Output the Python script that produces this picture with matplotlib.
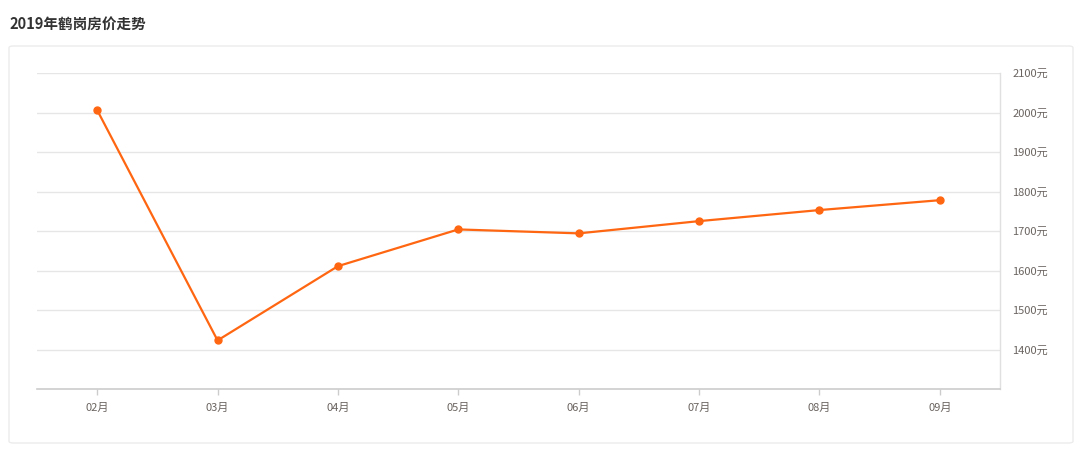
import matplotlib
matplotlib.use("Agg")
import matplotlib.pyplot as plt
from matplotlib.patches import FancyBboxPatch

plt.rcParams['font.family'] = ['Noto Sans CJK SC', 'DejaVu Sans']

months = ["02月", "03月", "04月", "05月", "06月", "07月", "08月", "09月"]
prices = [2006, 1423, 1611, 1704, 1694, 1725, 1753, 1778]
y_ticks = [1400, 1500, 1600, 1700, 1800, 1900, 2000, 2100]
title = "2019年鹤岗房价走势"

line_color = "#ff6611"
grid_color = "#e6e6e6"
label_color = "#6a6460"

fig = plt.figure(figsize=(10.8, 4.53), dpi=100)

# panel frame (kept behind the axes)
frame = FancyBboxPatch((9 / 1080, 1 - 443 / 453), 1064 / 1080, 397 / 453,
                       boxstyle="round,pad=0,rounding_size=0.004",
                       transform=fig.transFigure, facecolor="white",
                       edgecolor="#ececec", linewidth=1, zorder=-10)
fig.patches.append(frame)

fig.text(9 / 1080, 1 - 24 / 453, title, fontsize=10.5, fontweight="bold",
         color="#333333", va="center", ha="left")

ax = fig.add_axes([37 / 1080, 1 - 389 / 453, 963 / 1080, 316 / 453])
ax.patch.set_alpha(0)
x = list(range(len(months)))
ax.plot(x, prices, color=line_color, linewidth=1.6, marker="o",
        markersize=5, zorder=3)

ax.set_xlim(-0.5, len(months) - 0.5)
ax.set_ylim(1300, 2100)
ax.set_xticks(x)
ax.set_xticklabels(months)
ax.set_yticks(y_ticks)
ax.set_yticklabels([f"{v}元" for v in y_ticks])
ax.yaxis.tick_right()
ax.tick_params(axis="y", length=0, pad=9, labelsize=8, labelcolor=label_color)
ax.tick_params(axis="x", length=4, width=1, color="#cccccc", pad=6,
               labelsize=8, labelcolor=label_color)
ax.grid(axis="y", color=grid_color, linewidth=1)
ax.set_axisbelow(True)

for s in ["top", "left"]:
    ax.spines[s].set_visible(False)
ax.spines["bottom"].set_color("#cccccc")
ax.spines["bottom"].set_linewidth(1.2)
ax.spines["right"].set_color("#e0e0e0")
ax.spines["right"].set_linewidth(1)

fig.savefig("out.png", dpi=100)
